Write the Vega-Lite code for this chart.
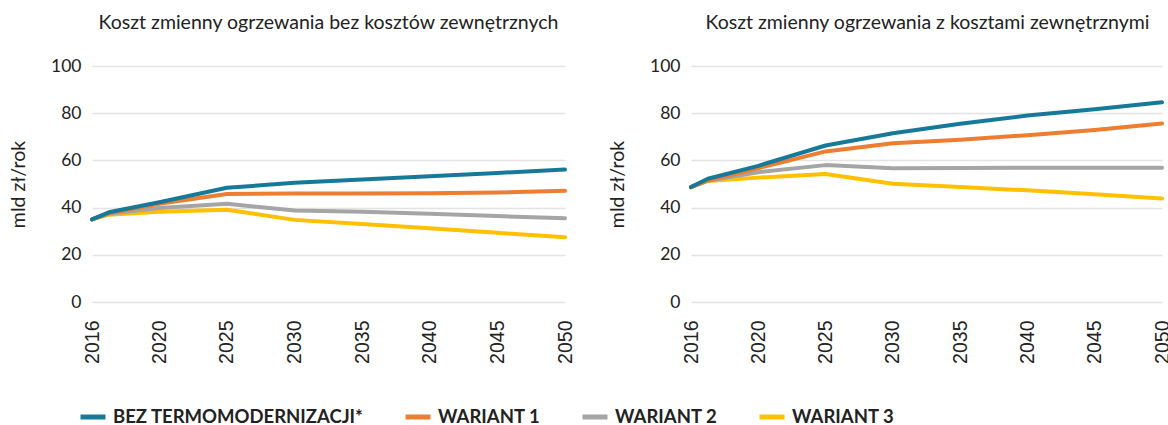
{
  "$schema": "https://vega.github.io/schema/vega-lite/v6.json",
  "background": "white",
  "padding": {"left": 8, "top": 12, "right": 0, "bottom": 0},
  "config": {
    "view": {"stroke": null},
    "font": "Lato",
    "concat": {"spacing": 32},
    "title": {"font": "Lato", "fontSize": 19.5, "fontWeight": "normal", "color": "#222222", "offset": 24, "anchor": "middle"},
    "axisY": {
      "labelFont": "Lato", "labelFontSize": 17.5, "labelColor": "#222222", "labelPadding": 5,
      "ticks": false, "domain": false, "gridColor": "#e3e3e3", "gridWidth": 1.3,
      "titleFont": "Lato", "titleFontSize": 19.5, "titleFontWeight": "normal", "titleColor": "#222222", "titlePadding": 22
    },
    "axisX": {
      "labelFont": "Liberation Sans", "labelFontSize": 19.5, "labelColor": "#222222", "labelAngle": -90,
      "labelPadding": 18, "ticks": false, "domain": false, "grid": false, "labelFlush": false, "labelOverlap": false
    }
  },
  "datasets": {
    "d": [
      {"panel": "L", "series": "WARIANT 3", "year": 2016, "value": 35.0},
      {"panel": "L", "series": "WARIANT 3", "year": 2017, "value": 37.0},
      {"panel": "L", "series": "WARIANT 3", "year": 2020, "value": 38.2},
      {"panel": "L", "series": "WARIANT 3", "year": 2025, "value": 39.1},
      {"panel": "L", "series": "WARIANT 3", "year": 2030, "value": 34.8},
      {"panel": "L", "series": "WARIANT 3", "year": 2035, "value": 33.0},
      {"panel": "L", "series": "WARIANT 3", "year": 2040, "value": 31.2},
      {"panel": "L", "series": "WARIANT 3", "year": 2045, "value": 29.3},
      {"panel": "L", "series": "WARIANT 3", "year": 2050, "value": 27.4},
      {"panel": "L", "series": "WARIANT 2", "year": 2016, "value": 35.0},
      {"panel": "L", "series": "WARIANT 2", "year": 2017, "value": 37.4},
      {"panel": "L", "series": "WARIANT 2", "year": 2020, "value": 39.8},
      {"panel": "L", "series": "WARIANT 2", "year": 2025, "value": 41.6},
      {"panel": "L", "series": "WARIANT 2", "year": 2030, "value": 38.8},
      {"panel": "L", "series": "WARIANT 2", "year": 2035, "value": 38.2},
      {"panel": "L", "series": "WARIANT 2", "year": 2040, "value": 37.4},
      {"panel": "L", "series": "WARIANT 2", "year": 2045, "value": 36.4},
      {"panel": "L", "series": "WARIANT 2", "year": 2050, "value": 35.5},
      {"panel": "L", "series": "WARIANT 1", "year": 2016, "value": 35.0},
      {"panel": "L", "series": "WARIANT 1", "year": 2017, "value": 37.6},
      {"panel": "L", "series": "WARIANT 1", "year": 2020, "value": 41.6},
      {"panel": "L", "series": "WARIANT 1", "year": 2025, "value": 45.8},
      {"panel": "L", "series": "WARIANT 1", "year": 2030, "value": 46.0},
      {"panel": "L", "series": "WARIANT 1", "year": 2035, "value": 46.0},
      {"panel": "L", "series": "WARIANT 1", "year": 2040, "value": 46.1},
      {"panel": "L", "series": "WARIANT 1", "year": 2045, "value": 46.4},
      {"panel": "L", "series": "WARIANT 1", "year": 2050, "value": 47.1},
      {"panel": "L", "series": "BEZ TERMOMODERNIZACJI*", "year": 2016, "value": 35.0},
      {"panel": "L", "series": "BEZ TERMOMODERNIZACJI*", "year": 2017, "value": 38.0},
      {"panel": "L", "series": "BEZ TERMOMODERNIZACJI*", "year": 2020, "value": 42.3},
      {"panel": "L", "series": "BEZ TERMOMODERNIZACJI*", "year": 2025, "value": 48.4},
      {"panel": "L", "series": "BEZ TERMOMODERNIZACJI*", "year": 2030, "value": 50.5},
      {"panel": "L", "series": "BEZ TERMOMODERNIZACJI*", "year": 2035, "value": 51.9},
      {"panel": "L", "series": "BEZ TERMOMODERNIZACJI*", "year": 2040, "value": 53.3},
      {"panel": "L", "series": "BEZ TERMOMODERNIZACJI*", "year": 2045, "value": 54.7},
      {"panel": "L", "series": "BEZ TERMOMODERNIZACJI*", "year": 2050, "value": 56.1},
      {"panel": "R", "series": "WARIANT 3", "year": 2016, "value": 48.7},
      {"panel": "R", "series": "WARIANT 3", "year": 2017, "value": 51.3},
      {"panel": "R", "series": "WARIANT 3", "year": 2020, "value": 52.7},
      {"panel": "R", "series": "WARIANT 3", "year": 2025, "value": 54.2},
      {"panel": "R", "series": "WARIANT 3", "year": 2030, "value": 50.1},
      {"panel": "R", "series": "WARIANT 3", "year": 2035, "value": 48.7},
      {"panel": "R", "series": "WARIANT 3", "year": 2040, "value": 47.3},
      {"panel": "R", "series": "WARIANT 3", "year": 2045, "value": 45.7},
      {"panel": "R", "series": "WARIANT 3", "year": 2050, "value": 43.9},
      {"panel": "R", "series": "WARIANT 2", "year": 2016, "value": 48.7},
      {"panel": "R", "series": "WARIANT 2", "year": 2017, "value": 51.4},
      {"panel": "R", "series": "WARIANT 2", "year": 2020, "value": 55.0},
      {"panel": "R", "series": "WARIANT 2", "year": 2025, "value": 58.0},
      {"panel": "R", "series": "WARIANT 2", "year": 2030, "value": 56.7},
      {"panel": "R", "series": "WARIANT 2", "year": 2035, "value": 56.8},
      {"panel": "R", "series": "WARIANT 2", "year": 2040, "value": 56.9},
      {"panel": "R", "series": "WARIANT 2", "year": 2045, "value": 56.9},
      {"panel": "R", "series": "WARIANT 2", "year": 2050, "value": 56.9},
      {"panel": "R", "series": "WARIANT 1", "year": 2016, "value": 48.7},
      {"panel": "R", "series": "WARIANT 1", "year": 2017, "value": 51.5},
      {"panel": "R", "series": "WARIANT 1", "year": 2020, "value": 56.7},
      {"panel": "R", "series": "WARIANT 1", "year": 2025, "value": 63.8},
      {"panel": "R", "series": "WARIANT 1", "year": 2030, "value": 67.3},
      {"panel": "R", "series": "WARIANT 1", "year": 2035, "value": 68.7},
      {"panel": "R", "series": "WARIANT 1", "year": 2040, "value": 70.7},
      {"panel": "R", "series": "WARIANT 1", "year": 2045, "value": 72.9},
      {"panel": "R", "series": "WARIANT 1", "year": 2050, "value": 75.6},
      {"panel": "R", "series": "BEZ TERMOMODERNIZACJI*", "year": 2016, "value": 48.7},
      {"panel": "R", "series": "BEZ TERMOMODERNIZACJI*", "year": 2017, "value": 52.2},
      {"panel": "R", "series": "BEZ TERMOMODERNIZACJI*", "year": 2020, "value": 57.7},
      {"panel": "R", "series": "BEZ TERMOMODERNIZACJI*", "year": 2025, "value": 66.3},
      {"panel": "R", "series": "BEZ TERMOMODERNIZACJI*", "year": 2030, "value": 71.5},
      {"panel": "R", "series": "BEZ TERMOMODERNIZACJI*", "year": 2035, "value": 75.5},
      {"panel": "R", "series": "BEZ TERMOMODERNIZACJI*", "year": 2040, "value": 79.0},
      {"panel": "R", "series": "BEZ TERMOMODERNIZACJI*", "year": 2045, "value": 81.7},
      {"panel": "R", "series": "BEZ TERMOMODERNIZACJI*", "year": 2050, "value": 84.6}
    ]
  },
  "hconcat": [
    {
      "width": 485,
      "height": 236,
      "title": "Koszt zmienny ogrzewania bez kosztów zewnętrznych",
      "data": {"name": "d"},
      "transform": [{"filter": "datum.panel === 'L'"}],
      "mark": {"type": "line", "strokeWidth": 4, "strokeCap": "round", "strokeJoin": "round"},
      "encoding": {
        "x": {"field": "year", "type": "quantitative", "title": null,
          "scale": {"domain": [2016, 2020, 2050], "range": [6, 73.3, 479]},
          "axis": {"values": [2016, 2020, 2025, 2030, 2035, 2040, 2045, 2050], "format": "d"}},
        "y": {"field": "value", "type": "quantitative", "title": "mld zł/rok",
          "scale": {"domain": [0, 100]},
          "axis": {"values": [0, 20, 40, 60, 80, 100]}},
        "color": {"field": "series", "type": "nominal",
          "scale": {"domain": ["BEZ TERMOMODERNIZACJI*", "WARIANT 1", "WARIANT 2", "WARIANT 3"],
                    "range": ["#17799A", "#ED7D31", "#A5A5A5", "#FFC000"]},
          "legend": {"orient": "none", "legendX": -8, "legendY": 336, "direction": "horizontal", "title": null,
            "symbolType": "stroke", "symbolSize": 625, "symbolStrokeWidth": 5, "labelOffset": 5,
            "labelFont": "Lato", "labelFontWeight": "bold", "labelFontSize": 18.5, "labelColor": "#222222",
            "columnPadding": 31, "labelLimit": 400}}
      }
    },
    {
      "width": 485,
      "height": 236,
      "title": "Koszt zmienny ogrzewania z kosztami zewnętrznymi",
      "data": {"name": "d"},
      "transform": [{"filter": "datum.panel === 'R'"}],
      "mark": {"type": "line", "strokeWidth": 4, "strokeCap": "round", "strokeJoin": "round"},
      "encoding": {
        "x": {"field": "year", "type": "quantitative", "title": null,
          "scale": {"domain": [2016, 2020, 2050], "range": [6, 73.3, 477]},
          "axis": {"values": [2016, 2020, 2025, 2030, 2035, 2040, 2045, 2050], "format": "d"}},
        "y": {"field": "value", "type": "quantitative", "title": "mld zł/rok",
          "scale": {"domain": [0, 100]},
          "axis": {"values": [0, 20, 40, 60, 80, 100]}},
        "color": {"field": "series", "type": "nominal"}
      }
    }
  ]
}
